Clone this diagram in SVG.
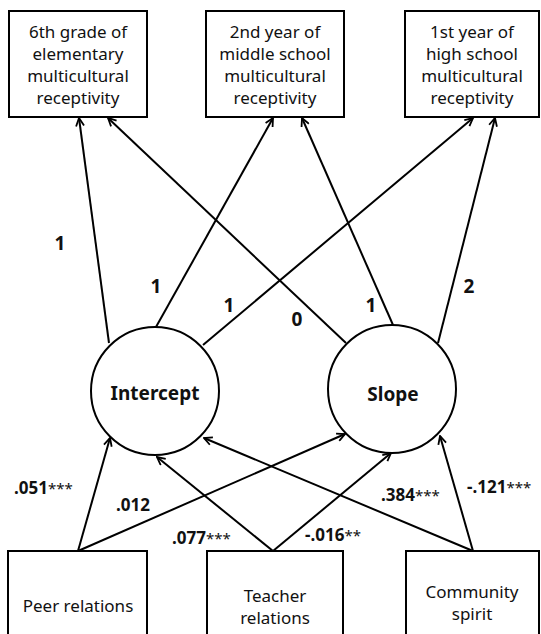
<svg xmlns="http://www.w3.org/2000/svg" width="541" height="634" viewBox="0 0 541 634">
<defs>
<style>
.box{fill:#fff;stroke:#000;stroke-width:2}
.lat{fill:#fff;stroke:#000;stroke-width:2}
.t{font-family:"Noto Sans","Liberation Sans",sans-serif;font-size:17px;fill:#111;text-anchor:middle}
.lt{font-family:"Noto Sans","Liberation Sans",sans-serif;font-size:19px;font-weight:bold;fill:#111;text-anchor:middle}
.n{font-family:"Noto Sans","Liberation Sans",sans-serif;font-size:19px;font-weight:bold;fill:#111;text-anchor:middle}
.c{font-family:"Noto Sans","Liberation Sans",sans-serif;font-size:17px;font-weight:bold;fill:#111}
.s{font-weight:normal;font-size:15px}
.e{fill:none;stroke:#000;stroke-width:2;marker-end:url(#ah)}
</style>
<marker id="ah" markerUnits="userSpaceOnUse" viewBox="0 0 10 10" refX="9" refY="5" markerWidth="10" markerHeight="10" orient="auto">
<path d="M1,1 L9,5 L1,9" fill="none" stroke="#000" stroke-width="1.8"/>
</marker>
</defs>
<g id="connectors">
<line class="e" x1="109" y1="343" x2="79" y2="118"/>
<line class="e" x1="156" y1="327" x2="273" y2="118"/>
<line class="e" x1="203" y1="345" x2="473" y2="118"/>
<line class="e" x1="346" y1="343" x2="108" y2="118"/>
<line class="e" x1="393" y1="325" x2="302" y2="118"/>
<line class="e" x1="438" y1="343" x2="495" y2="118"/>
<line class="e" x1="78" y1="551" x2="110" y2="438"/>
<line class="e" x1="78" y1="551" x2="345" y2="434"/>
<line class="e" x1="273" y1="551" x2="157" y2="457"/>
<line class="e" x1="273" y1="551" x2="391" y2="453"/>
<line class="e" x1="473" y1="551" x2="204" y2="438"/>
<line class="e" x1="473" y1="551" x2="440" y2="436"/>
</g>
<g id="labels">
<text class="n" x="60" y="250">1</text>
<text class="n" x="156" y="293">1</text>
<text class="n" x="229" y="312">1</text>
<text class="n" x="297" y="326">0</text>
<text class="n" x="371" y="312">1</text>
<text class="n" x="469" y="293">2</text>
<text class="c" x="14" y="494">.051<tspan class="s">***</tspan></text>
<text class="c" x="116" y="511">.012</text>
<text class="c" x="172" y="544">.077<tspan class="s">***</tspan></text>
<text class="c" x="305" y="541">-.016<tspan class="s">**</tspan></text>
<text class="c" x="381" y="501">.384<tspan class="s">***</tspan></text>
<text class="c" x="467" y="493">-.121<tspan class="s">***</tspan></text>
</g>
<g id="obs1">
<rect class="box" x="9" y="11" width="138" height="106"/>
<text class="t" x="78" y="38">6th grade of</text>
<text class="t" x="78" y="60">elementary</text>
<text class="t" x="78" y="82">multicultural</text>
<text class="t" x="78" y="104">receptivity</text>
</g>
<g id="obs2">
<rect class="box" x="206" y="11" width="138" height="106"/>
<text class="t" x="275" y="38">2nd year of</text>
<text class="t" x="275" y="60">middle school</text>
<text class="t" x="275" y="82">multicultural</text>
<text class="t" x="275" y="104">receptivity</text>
</g>
<g id="obs3">
<rect class="box" x="405" y="11" width="134" height="106"/>
<text class="t" x="472" y="38">1st year of</text>
<text class="t" x="472" y="60">high school</text>
<text class="t" x="472" y="82">multicultural</text>
<text class="t" x="472" y="104">receptivity</text>
</g>
<g id="intercept">
<circle class="lat" cx="155" cy="391" r="64"/>
<text class="lt" x="155" y="400">Intercept</text>
</g>
<g id="slope">
<circle class="lat" cx="392" cy="389" r="64"/>
<text class="lt" x="393" y="401">Slope</text>
</g>
<g id="peer">
<rect class="box" x="8" y="551" width="139" height="110"/>
<text class="t" x="78" y="612">Peer relations</text>
</g>
<g id="teacher">
<rect class="box" x="207" y="551" width="136" height="110"/>
<text class="t" x="275" y="602">Teacher</text>
<text class="t" x="275" y="624">relations</text>
</g>
<g id="community">
<rect class="box" x="406" y="551" width="133" height="110"/>
<text class="t" x="472" y="598">Community</text>
<text class="t" x="472" y="620">spirit</text>
</g>
</svg>
